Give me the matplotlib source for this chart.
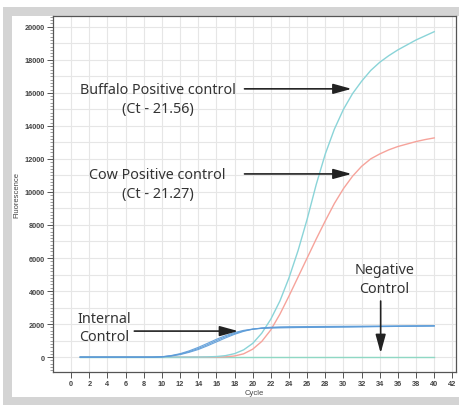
import matplotlib.pyplot as plt
from matplotlib.patches import Rectangle
from matplotlib.ticker import MultipleLocator

# amplification data (cycle 1..40)
cycles = list(range(1, 41))
buffalo = [0, 0, 0, 0, 0, 0, 0, 0, 0, 0, 0, 0, 0, 5, 15, 35, 90, 210, 440, 830,
           1450, 2300, 3400, 4800, 6450, 8350, 10450, 12300, 13800, 15000,
           15950, 16700, 17350, 17850, 18250, 18600, 18900, 19200, 19450, 19700]
cow = [0, 0, 0, 0, 0, 0, 0, 0, 0, 0, 0, 0, 0, 0, 0, 5, 20, 70, 200, 480,
       950, 1650, 2600, 3700, 4850, 6000, 7150, 8250, 9300, 10200,
       10950, 11550, 12000, 12300, 12550, 12750, 12900, 13050, 13170, 13270]
ic_1 = [0, 0, 0, 0, 0, 0, 0, 0, 0, 20, 80, 180, 330, 520, 750, 1000, 1230, 1430, 1590, 1690,
        1750, 1780, 1800, 1810, 1815, 1820, 1825, 1830, 1835, 1840,
        1845, 1850, 1855, 1860, 1865, 1870, 1875, 1880, 1885, 1890]
ic_2 = [0, 0, 0, 0, 0, 0, 0, 0, 0, 25, 95, 210, 380, 590, 830, 1080, 1300, 1490, 1620, 1700,
        1740, 1760, 1770, 1780, 1790, 1795, 1800, 1805, 1810, 1815,
        1822, 1830, 1838, 1845, 1852, 1860, 1866, 1872, 1878, 1885]
ic_3 = [0, 0, 0, 0, 0, 0, 0, 0, 0, 15, 65, 150, 290, 460, 680, 920, 1160, 1380, 1560, 1690,
        1770, 1810, 1830, 1840, 1845, 1850, 1854, 1858, 1862, 1866,
        1870, 1874, 1878, 1882, 1886, 1890, 1893, 1896, 1899, 1902]
negative = [0] * 40

fig = plt.figure(figsize=(4.6, 4.06), dpi=100)
fig.patch.set_facecolor("white")
# grey frame and white panel behind the plot
fig.patches.append(Rectangle((3 / 460, 0), 1, 398 / 406, transform=fig.transFigure,
                             facecolor="#d4d4d4", edgecolor="none", zorder=-2))
fig.patches.append(Rectangle((12 / 460, 8 / 406), 1, 381 / 406, transform=fig.transFigure,
                             facecolor="white", edgecolor="none", zorder=-1))

ax = fig.add_axes([53 / 460, 33 / 406, 403 / 460, 356 / 406])
ax.set_facecolor("white")

for v in range(0, 21000, 1000):
    ax.axhline(v, color="#e6e6e6", lw=0.8, zorder=0)
for c in range(0, 43, 2):
    ax.axvline(c, color="#e6e6e6", lw=0.8, zorder=0)

ax.plot(cycles, negative, color="#8fd8c4", lw=1.0)
ax.plot(cycles, cow, color="#f6a39b", lw=1.0)
ax.plot(cycles, buffalo, color="#8ad4d8", lw=1.0)
for ic in (ic_1, ic_2, ic_3):
    ax.plot(cycles, ic, color="#5b9bd8", lw=0.8, alpha=0.9)

ax.set_xlim(-2, 42.4)
ax.set_ylim(-900, 20650)
ax.set_xticks(range(0, 43, 2))
ax.yaxis.set_minor_locator(MultipleLocator(200))
ax.set_yticks(range(0, 20001, 2000))
ax.tick_params(axis="both", which="major", labelsize=5.3, labelcolor="#444",
               color="#555", length=4, width=0.7, direction="out", pad=2)
ax.tick_params(axis="y", which="minor", color="#777", length=2, width=0.5)
for lab in ax.get_xticklabels() + ax.get_yticklabels():
    lab.set_fontweight("bold")
    lab.set_family("Liberation Sans")
for s in ax.spines.values():
    s.set_color("#555")
    s.set_linewidth(0.9)

ax.set_xlabel("Cycle", fontsize=5.5, color="#444", family="Liberation Sans", labelpad=1)
ax.set_ylabel("Fluorescence", fontsize=5.5, color="#444", family="Liberation Sans", labelpad=3)

txt = dict(fontsize=10.3, color="#333", family="Noto Sans", ha="center", va="center",
           linespacing=1.35)
arrow = dict(arrowstyle="-|>,head_length=0.8,head_width=0.22", color="#222", lw=1.2,
             mutation_scale=14, shrinkA=0, shrinkB=0)

ax.text(9.6, 15640, "Buffalo Positive control\n(Ct - 21.56)", **txt)
ax.annotate("", xy=(30.9, 16240), xytext=(19.1, 16240), arrowprops=arrow)

ax.text(9.5, 10485, "Cow Positive control\n(Ct - 21.27)", **txt)
ax.annotate("", xy=(30.9, 11090), xytext=(19.1, 11090), arrowprops=arrow)

ax.text(3.6, 1790, "Internal\nControl", **txt)
ax.annotate("", xy=(18.4, 1576), xytext=(6.96, 1576), arrowprops=arrow)

ax.text(34.5, 4727, "Negative\nControl", **txt)
ax.annotate("", xy=(34.1, 242), xytext=(34.1, 3394), arrowprops=arrow)

plt.savefig("out.png", dpi=100)
